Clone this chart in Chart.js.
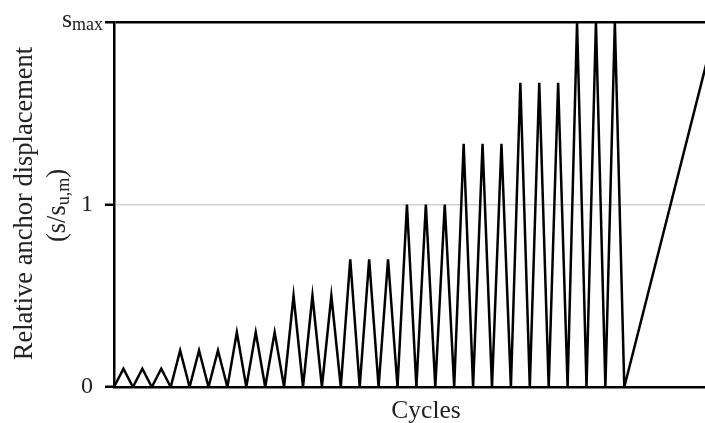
<!DOCTYPE html>
<html>
<head>
<meta charset="utf-8">
<script src="https://cdn.jsdelivr.net/npm/chart.js@4"></script>
<style>
  html, body { margin: 0; padding: 0; background: #fff; }
  #wrap { width: 705px; height: 423px; position: relative; }
</style>
</head>
<body>
<div id="wrap"><canvas id="c" width="705" height="423"></canvas></div>
<script>
// ---- data ----
// peak relative displacement for each of the 27 loading cycles (3 cycles per level)
const peakLevels = [
  0.1, 0.1, 0.1,
  0.2, 0.2, 0.2,
  0.3, 0.3, 0.3,
  0.5, 0.5, 0.5,
  0.7, 0.7, 0.7,
  1.0, 1.0, 1.0,
  1.333, 1.333, 1.333,
  1.667, 1.667, 1.667,
  2.0, 2.0, 2.0
];
// final monotonic ramp (cycle position, displacement) – runs off the right edge
const finalRamp = [31.9, 2.0];
const yTickValues = [0, 1, 2];
const yTickLabels = ['0', '1', 's_max'];
const xMax = 31.27;
const xTitle = 'Cycles';
const yTitleLine1 = 'Relative anchor displacement';

// build the cyclic displacement path: valley at each cycle start, peak at mid-cycle
const pathPoints = [];
peakLevels.forEach((p, i) => {
  pathPoints.push({ x: i, y: 0 });
  pathPoints.push({ x: i + 0.5, y: p });
});
pathPoints.push({ x: peakLevels.length, y: 0 });
pathPoints.push({ x: finalRamp[0], y: finalRamp[1] });

const SERIF = '"Liberation Serif", "Times New Roman", "DejaVu Serif", serif';
const TEXT = '#222';

const textPlugin = {
  id: 'customText',
  afterDraw(chart) {
    const ctx = chart.ctx;
    const area = chart.chartArea;
    const ys = chart.scales.y;
    ctx.save();
    ctx.fillStyle = TEXT;

    // s_max tick label with subscript
    const yTop = ys.getPixelForValue(2);
    ctx.font = '26px ' + SERIF;
    ctx.textBaseline = 'alphabetic';
    ctx.textAlign = 'left';
    const sW = ctx.measureText('s').width;
    ctx.font = '18px ' + SERIF;
    const subW = ctx.measureText('max').width;
    const right = 103;
    const sx = right - subW - sW;
    ctx.font = '26px ' + SERIF;
    ctx.fillText('s', sx, yTop + 5);
    ctx.font = '18px ' + SERIF;
    ctx.fillText('max', sx + sW, yTop + 8);

    // x-axis title
    ctx.font = '25.5px ' + SERIF;
    ctx.textAlign = 'center';
    ctx.fillText(xTitle, 426, 418);

    // y-axis title (two rotated lines)
    const cy = (area.top + area.bottom) / 2;
    ctx.save();
    ctx.translate(25, cy - 1);
    ctx.rotate(-Math.PI / 2);
    ctx.font = '26.5px ' + SERIF;
    ctx.textAlign = 'center';
    ctx.textBaseline = 'middle';
    ctx.fillText(yTitleLine1, 0, 0);
    ctx.restore();

    ctx.save();
    ctx.translate(58, cy + 1);
    ctx.rotate(-Math.PI / 2);
    ctx.textBaseline = 'middle';
    ctx.textAlign = 'left';
    const parts = [
      { t: '(s/s', f: '26.5px ', dy: 0 },
      { t: 'u,m', f: '18px ', dy: 6 },
      { t: ')', f: '26.5px ', dy: 0 }
    ];
    let total = 0;
    parts.forEach(p => { ctx.font = p.f + SERIF; p.w = ctx.measureText(p.t).width; total += p.w; });
    let x = -total / 2;
    parts.forEach(p => { ctx.font = p.f + SERIF; ctx.fillText(p.t, x, p.dy); x += p.w; });
    ctx.restore();

    ctx.restore();
  }
};

new Chart(document.getElementById('c'), {
  type: 'line',
  data: {
    datasets: [{
      data: pathPoints,
      borderColor: '#000',
      borderWidth: 2.5,
      pointRadius: 0,
      tension: 0,
      fill: false
    }]
  },
  options: {
    responsive: false,
    animation: false,
    devicePixelRatio: 1,
    layout: { padding: { top: 22, right: 0, left: 0, bottom: 0 } },
    plugins: { legend: { display: false }, tooltip: { enabled: false } },
    scales: {
      x: {
        type: 'linear',
        min: 0,
        max: xMax,
        ticks: { display: false },
        grid: { display: false },
        border: { display: true, color: '#000', width: 2.5 },
        afterFit(scale) { scale.height = 36; scale.paddingLeft = 0; scale.paddingRight = 0; }
      },
      y: {
        type: 'linear',
        min: 0,
        max: 2,
        afterBuildTicks(scale) { scale.ticks = yTickValues.map(v => ({ value: v })); },
        ticks: {
          padding: 12,
          color: TEXT,
          font: { family: SERIF, size: 24 },
          callback(v) {
            const i = yTickValues.indexOf(v);
            return i >= 0 && yTickLabels[i] !== 's_max' ? yTickLabels[i] : '';
          }
        },
        grid: {
          drawTicks: true,
          tickLength: 9,
          tickColor: '#000',
          tickWidth: 2.5,
          color(ctx) {
            const v = ctx.tick && ctx.tick.value;
            if (v === 1) return '#d0d0d0';
            if (v === 2) return '#000';
            return 'rgba(0,0,0,0)';
          },
          lineWidth(ctx) {
            const v = ctx.tick && ctx.tick.value;
            return v === 2 ? 2.5 : 1.5;
          }
        },
        border: { display: true, color: '#000', width: 2.5 },
        afterFit(scale) { scale.width = 114; scale.paddingTop = 0; scale.paddingBottom = 0; }
      }
    }
  },
  plugins: [textPlugin]
});
</script>
</body>
</html>
